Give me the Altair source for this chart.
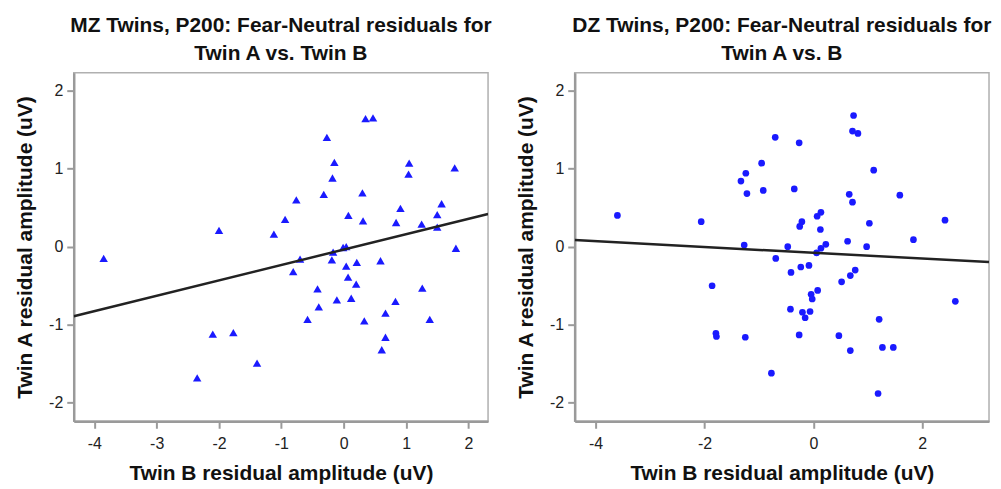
import altair as alt
import pandas as pd

# ---- data ----
mz_twin_b = [-2.00, 0.35, 0.47, -0.27, -0.15, -0.18, -0.32, 0.30, -0.76, -0.94, -1.12, 0.075, 0.31,
             1.05, 1.04, 1.78, 0.91, 0.84, 1.57, 1.50, 1.25, 1.50, -3.85, -2.10, -1.77, -2.35, -1.39,
             1.80, -0.70, -0.81, -0.17, -0.19, -0.01, 0.04, 0.04, 0.21, 0.59, 0.07, 0.20, -0.42, -0.40,
             -0.11, 0.12, -0.58, 0.33, 0.67, 0.83, 1.26, 1.38, 0.67, 0.61]
mz_twin_a = [0.21, 1.64, 1.65, 1.40, 1.08, 0.88, 0.67, 0.69, 0.60, 0.35, 0.16, 0.40, 0.33,
             1.07, 0.93, 1.01, 0.49, 0.31, 0.55, 0.41, 0.29, 0.25, -0.15, -1.12, -1.10, -1.68, -1.49,
             -0.02, -0.16, -0.32, -0.07, -0.17, -0.01, 0.00, -0.25, -0.20, -0.18, -0.39, -0.48, -0.54, -0.77,
             -0.68, -0.66, -0.93, -0.95, -0.85, -0.70, -0.53, -0.93, -1.16, -1.32]

dz_twin_b = [-3.60, -2.06, -0.70, -0.95, -1.24, -1.33, -1.22, -0.92, 0.74, 0.72, 0.82, -0.26, 1.11,
             -0.35, 0.66, 0.72, 1.59, 0.14, 0.07, -0.21, -0.25, 0.13, 1.03, 2.42, 1.84, 0.63, -1.27,
             -0.69, -1.86, -1.79, -1.78, -1.25, -0.77, -0.47, 0.23, 0.14, 0.06, 0.98, -0.41, -0.23,
             -0.08, 0.77, 0.68, 0.52, 0.08, -0.04, -0.02, -0.42, -0.20, -0.15, -0.06, 2.61, 1.21,
             -0.26, 0.47, 0.68, 1.27, 1.47, 1.19]
dz_twin_a = [0.40, 0.32, 1.40, 1.07, 0.94, 0.84, 0.68, 0.72, 1.68, 1.48, 1.45, 1.33, 0.98,
             0.74, 0.67, 0.57, 0.66, 0.44, 0.39, 0.32, 0.26, 0.22, 0.30, 0.34, 0.09, 0.07, 0.02,
             -0.15, -0.50, -1.11, -1.15, -1.16, -1.62, 0.00, 0.03, -0.02, -0.08, 0.00, -0.33, -0.26,
             -0.24, -0.30, -0.37, -0.45, -0.56, -0.61, -0.67, -0.80, -0.84, -0.91, -0.83, -0.70, -0.93,
             -1.13, -1.14, -1.33, -1.29, -1.29, -1.88]

# fitted regression lines (slope, intercept)
mz_fit = [0.197, -0.037]
dz_fit = [-0.037, -0.078]

mz_xdomain = [-4.33, 2.315]
dz_xdomain = [-4.385, 3.229]
ydomain = [-2.236, 2.228]

mz_xticks = [-4, -3, -2, -1, 0, 1, 2]
dz_xticks = [-4, -2, 0, 2]
yticks = [-2, -1, 0, 1, 2]

mz_title = ["MZ Twins, P200: Fear-Neutral residuals for", "Twin A vs. Twin B"]
dz_title = ["DZ Twins, P200: Fear-Neutral residuals for", "Twin A vs. B"]
x_title = "Twin B residual amplitude (uV)"
y_title = "Twin A residual amplitude (uV)"

FONT = "Liberation Sans"
GRAY = "#9a9a9a"


def panel(xs, ys, fit, xdomain, xticks, title, shape, size):
    pts = pd.DataFrame({"b": xs, "a": ys})
    line_df = pd.DataFrame({"b": xdomain})
    xscale = alt.Scale(domain=xdomain, nice=False, zero=False)
    yscale = alt.Scale(domain=ydomain, nice=False, zero=False)
    xaxis = alt.Axis(values=xticks, title=x_title, grid=False,
                     labelExpr="toString(datum.value)",
                     labelPadding=7, titlePadding=11)
    yaxis = alt.Axis(values=yticks, title=y_title, grid=False,
                     labelExpr="toString(datum.value)",
                     labelPadding=4, titlePadding=13)
    points = alt.Chart(pts).mark_point(
        shape=shape, filled=True, size=size, color="#1a1aff", opacity=1
    ).encode(
        x=alt.X("b:Q", scale=xscale, axis=xaxis),
        y=alt.Y("a:Q", scale=yscale, axis=yaxis),
    )
    line = alt.Chart(line_df).transform_calculate(
        a=f"{fit[1]} + {fit[0]} * datum.b"
    ).mark_line(color="#222222", strokeWidth=2.5, clip=True).encode(
        x=alt.X("b:Q", scale=xscale),
        y=alt.Y("a:Q", scale=yscale),
    )
    return alt.layer(points, line).properties(
        width=416, height=350,
        title=alt.TitleParams(text=title, fontSize=21, font=FONT, fontWeight="bold",
                              color="#111111", lineHeight=28, offset=9, anchor="middle"),
    )


left = panel(mz_twin_b, mz_twin_a, mz_fit, mz_xdomain, mz_xticks, mz_title, "triangle-up", 72)
right = panel(dz_twin_b, dz_twin_a, dz_fit, dz_xdomain, dz_xticks, dz_title, "circle", 45)

chart = alt.hconcat(left, right, spacing=22).properties(
    padding={"left": 6, "top": 5, "right": 0, "bottom": 0}
).configure_view(
    stroke="#b0b0b0", strokeWidth=1.5
).configure_axis(
    domainColor=GRAY, domainWidth=2.5, tickColor=GRAY, tickWidth=2, tickSize=7,
    labelFont=FONT, labelFontSize=16, labelColor="#222222",
    titleFont=FONT, titleFontSize=21, titleFontWeight="bold", titleColor="#111111",
)

chart.save("out.html", embed_options={"renderer": "svg", "actions": False})
